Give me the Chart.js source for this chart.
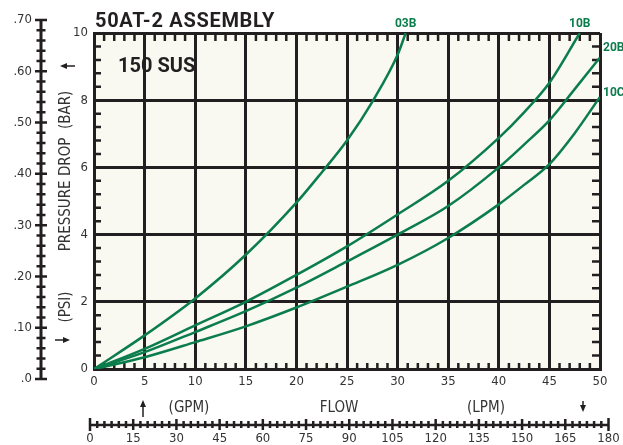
<!DOCTYPE html>
<html>
<head>
<meta charset="utf-8">
<script src="https://cdn.jsdelivr.net/npm/chart.js@4"></script>
<style>
  body { margin: 0; background: #fff; }
  canvas { display: block; }
</style>
</head>
<body>
<canvas id="chart" width="623" height="445"></canvas>
<script>
// flow (GPM) vs pressure drop (PSI)
var gpm03B = [0, 5, 10, 15, 20, 22.5, 25, 27.5, 30, 30.8]
var psi03B = [0, 1.0, 2.1, 3.4, 4.95, 5.85, 6.8, 7.95, 9.35, 10]
var gpm10B = [0, 5, 10, 15, 20, 25, 30, 35, 40, 42.5, 45, 48]
var psi10B = [0, 0.6, 1.3, 2.0, 2.8, 3.65, 4.6, 5.6, 6.88, 7.64, 8.52, 10]
var gpm20B = [0, 5, 10, 15, 20, 25, 30, 35, 40, 42.5, 45, 47.5, 50]
var psi20B = [0, 0.5, 1.1, 1.72, 2.42, 3.2, 4.0, 4.85, 6.0, 6.68, 7.4, 8.33, 9.27]
var gpm10C = [0, 5, 10, 15, 20, 25, 30, 35, 40, 42.5, 45, 47.5, 50]
var psi10C = [0, 0.35, 0.8, 1.27, 1.83, 2.45, 3.1, 3.9, 4.9, 5.48, 6.1, 7.02, 8.1]

var seriesNames = ['03B', '10B', '20B', '10C']
// label placement relative to the last point of each curve
var labelAlign = ['center', 'center', 'left', 'left']

// secondary scales
var barTicks = [0, 0.1, 0.2, 0.3, 0.4, 0.5, 0.6, 0.7]
var barLabels = ['.0', '.10', '.20', '.30', '.40', '.50', '.60', '.70']
var lpmTicks = [0, 15, 30, 45, 60, 75, 90, 105, 120, 135, 150, 165, 180]

var title = '50AT-2 ASSEMBLY'
var subTitle = '150 SUS'

var green = '#0b7d4c'
var ink = '#231f20'
var thin = '"Liberation Sans Narrow", "DejaVu Sans Condensed", sans-serif'
var bold = 'Roboto, "Liberation Sans", sans-serif'

function pts (xs, ys) {
  var out = []
  for (var i = 0; i < xs.length; i++) out.push({ x: xs[i], y: ys[i] })
  return out
}

var datasets = [
  pts(gpm03B, psi03B), pts(gpm10B, psi10B), pts(gpm20B, psi20B), pts(gpm10C, psi10C)
].map(function (d, i) {
  return {
    label: seriesNames[i],
    data: d,
    borderColor: green,
    borderWidth: 2.5,
    pointRadius: 0,
    fill: false,
    cubicInterpolationMode: 'monotone'
  }
})

function arrow (ctx, x1, y1, x2, y2) {
  var a = Math.atan2(y2 - y1, x2 - x1)
  ctx.beginPath()
  ctx.moveTo(x1, y1)
  ctx.lineTo(x2 - 4 * Math.cos(a), y2 - 4 * Math.sin(a))
  ctx.stroke()
  ctx.beginPath()
  ctx.moveTo(x2, y2)
  ctx.lineTo(x2 - 7 * Math.cos(a) + 3 * Math.sin(a), y2 - 7 * Math.sin(a) - 3 * Math.cos(a))
  ctx.lineTo(x2 - 7 * Math.cos(a) - 3 * Math.sin(a), y2 - 7 * Math.sin(a) + 3 * Math.cos(a))
  ctx.closePath()
  ctx.fill()
}

var decor = {
  id: 'decor',
  beforeDraw: function (chart) {
    var ca = chart.chartArea
    var ctx = chart.ctx
    ctx.save()
    ctx.fillStyle = '#f9f8f1'
    ctx.fillRect(ca.left, ca.top, ca.right - ca.left, ca.bottom - ca.top)
    ctx.restore()
  },
  beforeDatasetsDraw: function (chart) {
    var ca = chart.chartArea
    var ctx = chart.ctx
    var sx = chart.scales.x
    var sy = chart.scales.y
    ctx.save()
    ctx.strokeStyle = ink
    ctx.lineWidth = 2.5
    ctx.beginPath()
    // minor ticks inside the frame
    for (var g = 1; g < 50; g++) {
      if (g % 5 === 0) continue
      var px = sx.getPixelForValue(g)
      ctx.moveTo(px, ca.top); ctx.lineTo(px, ca.top + 8)
      ctx.moveTo(px, ca.bottom); ctx.lineTo(px, ca.bottom - 6)
    }
    for (var p = 1; p < 25; p++) {
      if (p % 5 === 0) continue
      var py = sy.getPixelForValue(p * 0.4)
      ctx.moveTo(ca.left, py); ctx.lineTo(ca.left + 7, py)
      ctx.moveTo(ca.right, py); ctx.lineTo(ca.right - 8, py)
    }
    ctx.stroke()
    ctx.restore()
  },
  afterDraw: function (chart) {
    var ca = chart.chartArea
    var ctx = chart.ctx
    ctx.save()

    // titles
    ctx.fillStyle = ink
    ctx.textBaseline = 'alphabetic'
    ctx.textAlign = 'left'
    ctx.font = 'bold 20px ' + bold
    ctx.letterSpacing = '0.7px'
    ctx.fillText(title, ca.left + 1, ca.top - 6)
    ctx.letterSpacing = '0px'
    ctx.fillText(subTitle, ca.left + 24, ca.top + 39)

    // curve labels at curve ends
    ctx.fillStyle = green
    ctx.font = 'bold 12px ' + bold
    ctx.textBaseline = 'middle'
    chart.data.datasets.forEach(function (ds, i) {
      var meta = chart.getDatasetMeta(i)
      var last = meta.data[meta.data.length - 1]
      ctx.textAlign = labelAlign[i]
      if (labelAlign[i] === 'center') ctx.fillText(ds.label, last.x, last.y - 9)
      else ctx.fillText(ds.label, last.x + 3, last.y - (i === 2 ? 10 : 4))
    })

    // outer BAR axis
    var bx = ca.left - 53
    var by0 = ca.bottom + 10
    var by1 = ca.top - 13
    var barPx = function (v) { return by0 + (by1 - by0) * v / 0.7 }
    ctx.strokeStyle = ink
    ctx.fillStyle = ink
    ctx.lineWidth = 3
    ctx.beginPath()
    ctx.moveTo(bx, by0); ctx.lineTo(bx, by1)
    ctx.stroke()
    ctx.lineWidth = 2.5
    ctx.beginPath()
    for (var k = 0; k <= 35; k++) {
      var yy = barPx(k * 0.02)
      var w = k % 5 === 0 ? 6 : 4.5
      ctx.moveTo(bx - w, yy); ctx.lineTo(bx + w, yy)
    }
    ctx.stroke()
    ctx.font = '13px ' + thin
    ctx.fillStyle = '#333'
    ctx.textAlign = 'right'
    barTicks.forEach(function (v, i) {
      ctx.fillText(barLabels[i], bx - 9, barPx(v))
    })

    // outer LPM axis
    var lx0 = ca.left - 4
    var lx1 = ca.right + 8.5
    var ly = ca.bottom + 56
    var lpmPx = function (v) { return lx0 + (lx1 - lx0) * v / 180 }
    ctx.strokeStyle = ink
    ctx.lineWidth = 2.5
    ctx.beginPath()
    ctx.moveTo(lx0, ly); ctx.lineTo(lx1, ly)
    for (var m = 0; m <= 72; m++) {
      var xx = lpmPx(m * 2.5)
      var h = m % 6 === 0 ? 6 : 4
      if (m === 0 || m === 72) h = 7
      ctx.moveTo(xx, ly - h); ctx.lineTo(xx, ly + h - 1)
    }
    ctx.stroke()
    ctx.textAlign = 'center'
    lpmTicks.forEach(function (v) {
      ctx.fillText(String(v), lpmPx(v), ly + 14)
    })

    // axis titles
    ctx.font = '15px ' + thin
    ctx.fillStyle = '#333'
    ctx.fillText('(GPM)', ca.left + 95, ca.bottom + 39)
    ctx.fillText('FLOW', ca.left + 245, ca.bottom + 39)
    ctx.fillText('(LPM)', ca.left + 392, ca.bottom + 39)
    ctx.save()
    ctx.translate(ca.left - 28, 0)
    ctx.rotate(-Math.PI / 2)
    ctx.fillText('(PSI)', -307, 0)
    ctx.fillText('PRESSURE DROP  (BAR)', -171, 0)
    ctx.restore()

    // arrows
    ctx.strokeStyle = ink
    ctx.fillStyle = ink
    ctx.lineWidth = 1.5
    arrow(ctx, ca.left - 19, ca.top + 33, ca.left - 34, ca.top + 33)
    arrow(ctx, ca.left - 39, ca.bottom - 29, ca.left - 24, ca.bottom - 29)
    arrow(ctx, ca.left + 49, ca.bottom + 48, ca.left + 49, ca.bottom + 31)
    arrow(ctx, ca.left + 489, ca.bottom + 32, ca.left + 489, ca.bottom + 43)

    ctx.restore()
  }
}

var gridOpts = { color: ink, lineWidth: 3, drawTicks: false }
var tickFont = { family: thin, size: 13 }

new Chart(document.getElementById('chart'), {
  type: 'line',
  data: { datasets: datasets },
  options: {
    responsive: false,
    animation: false,
    layout: { padding: { top: 33, right: 23, left: 0, bottom: 0 } },
    plugins: { legend: { display: false }, tooltip: { enabled: false }, title: { display: false } },
    scales: {
      x: {
        type: 'linear',
        min: 0,
        max: 50,
        ticks: { stepSize: 5, padding: 5, color: '#333', font: tickFont, maxRotation: 0 },
        grid: gridOpts,
        border: { color: ink, width: 3 },
        afterFit: function (s) { s.height = 76 }
      },
      y: {
        min: 0,
        max: 10,
        ticks: { stepSize: 2, padding: 6, color: '#333', font: tickFont },
        grid: gridOpts,
        border: { color: ink, width: 3 },
        afterFit: function (s) { s.width = 94 }
      }
    }
  },
  plugins: [decor]
})
</script>
</body>
</html>
